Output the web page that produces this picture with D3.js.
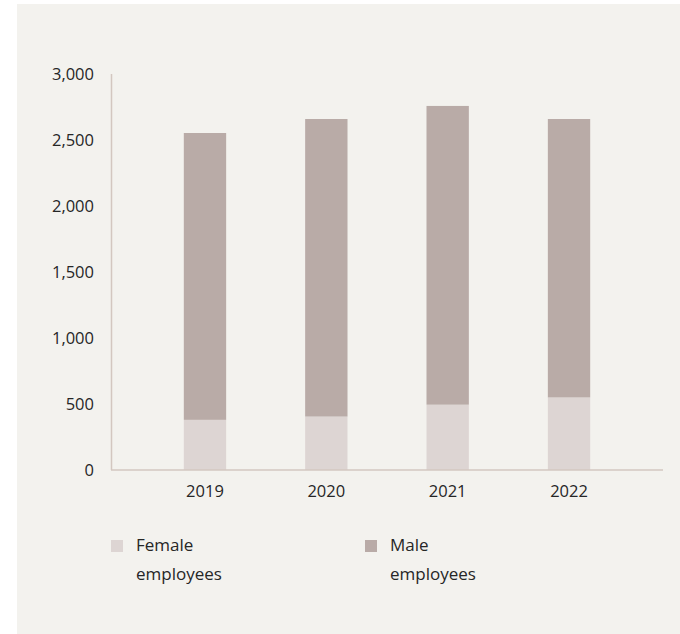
<!DOCTYPE html>
<html>
<head>
<meta charset="utf-8">
<script src="https://cdn.jsdelivr.net/npm/d3@7"></script>
<style>
  html, body { margin: 0; padding: 0; background: #ffffff; }
  svg { display: block; }
  text { font-family: "Open Sans", "Noto Sans", sans-serif; fill: #262626; }
</style>
</head>
<body>
<svg id="chart" width="680" height="634"></svg>
<script>
const years = ["2019", "2020", "2021", "2022"];
const female = [380, 405, 495, 550];
const male = [2173, 2254, 2263, 2109];
const yTicks = [0, 500, 1000, 1500, 2000, 2500, 3000];
const seriesNames = ["Female employees", "Male employees"];
const colors = ["#ddd5d3", "#b9aba7"];

const svg = d3.select("#chart");
svg.append("rect").attr("x", 17).attr("y", 4).attr("width", 663).attr("height", 630).attr("fill", "#f3f2ee");

const x = d3.scaleBand().domain(years).range([111, 663]).paddingInner(0.651).paddingOuter(0.6);
const y = d3.scaleLinear().domain([0, 3000]).range([470, 74]);

const rows = years.map((yr, i) => ({ year: yr, female: female[i], male: male[i] }));
const stack = d3.stack().keys(["female", "male"])(rows);

svg.append("g").selectAll("g").data(stack).join("g")
  .attr("fill", (d, i) => colors[i])
  .selectAll("rect").data(d => d).join("rect")
  .attr("x", d => x(d.data.year))
  .attr("width", x.bandwidth())
  .attr("y", d => y(d[1]))
  .attr("height", d => y(d[0]) - y(d[1]));

// axes
const axisColor = "#d3c7c0";
svg.append("line").attr("x1", 111.5).attr("x2", 111.5).attr("y1", y(3000)).attr("y2", y(0))
  .attr("stroke", axisColor).attr("stroke-width", 1.5);
svg.append("line").attr("x1", 111).attr("x2", 663).attr("y1", y(0)).attr("y2", y(0))
  .attr("stroke", axisColor).attr("stroke-width", 1.5);

const fmt = d3.format(",");
svg.append("g").selectAll("text").data(yTicks).join("text")
  .attr("x", 94).attr("y", d => y(d)).attr("dy", "0.35em")
  .attr("text-anchor", "end").attr("font-size", 16.5)
  .text(d => fmt(d));

svg.append("g").selectAll("text").data(years).join("text")
  .attr("x", d => x(d) + x.bandwidth() / 2).attr("y", 491).attr("dy", "0.35em")
  .attr("text-anchor", "middle").attr("font-size", 16.5)
  .text(d => d);

// legend
const legendX = [111, 365];
const lg = svg.append("g").selectAll("g").data(seriesNames).join("g")
  .attr("transform", (d, i) => `translate(${legendX[i]},540)`);
lg.append("rect").attr("width", 12).attr("height", 12).attr("fill", (d, i) => colors[i]);
lg.append("text").attr("x", 25).attr("y", 5).attr("dy", "0.35em").attr("font-size", 17)
  .text(d => d.split(" ")[0]);
lg.append("text").attr("x", 25).attr("y", 34).attr("dy", "0.35em").attr("font-size", 17)
  .text(d => d.split(" ")[1]);
</script>
</body>
</html>
